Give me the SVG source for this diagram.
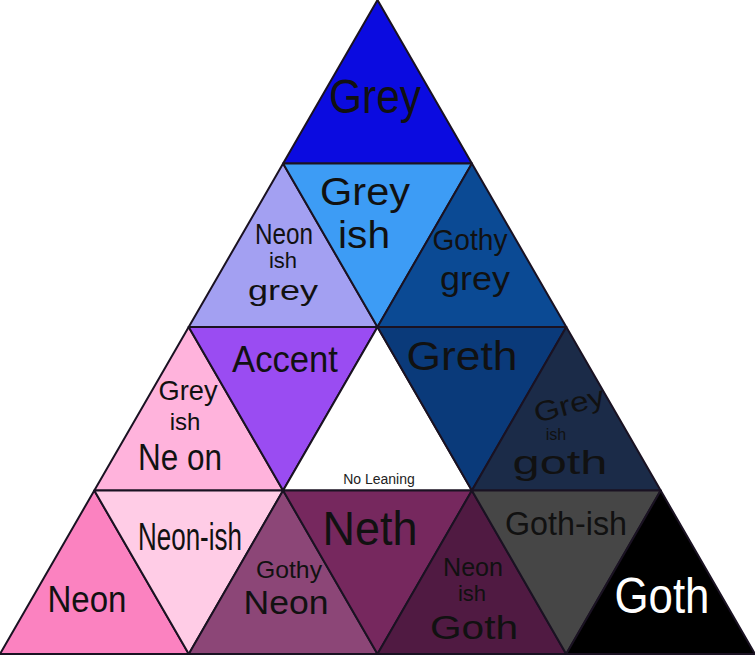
<svg xmlns="http://www.w3.org/2000/svg" width="755" height="655" viewBox="0 0 755 655">
<style>
.t{stroke:#1a1222;stroke-width:2;stroke-linejoin:round}
.h{font-family:"Liberation Sans","DejaVu Sans",sans-serif;fill:#111;text-anchor:middle}
.w{fill:#fff}
.nl{font-family:"Liberation Sans",Arial,sans-serif;font-size:14px;fill:#222;text-anchor:middle}
</style>
<rect width="755" height="655" fill="#fff"/>
<g id="grey"><polygon class="t" fill="#0b0be0" points="377.5,0 283.1,163.5 471.9,163.5"/><text class="h" x="375" y="113" font-size="48" textLength="92" lengthAdjust="spacingAndGlyphs">Grey</text></g>
<g id="neonish-grey"><polygon class="t" fill="#a3a0f2" points="283.1,163.5 188.7,327 377.5,327"/><text class="h" x="284" y="244" font-size="30" textLength="58" lengthAdjust="spacingAndGlyphs">Neon</text><text class="h" x="283" y="268" font-size="22">ish</text><text class="h" x="283" y="300" font-size="28" textLength="70" lengthAdjust="spacingAndGlyphs">grey</text></g>
<g id="greyish"><polygon class="t" fill="#3d9cf5" points="283.1,163.5 471.9,163.5 377.5,327"/><text class="h" x="365" y="205" font-size="38" textLength="90" lengthAdjust="spacingAndGlyphs">Grey</text><text class="h" x="364" y="248" font-size="38" textLength="52" lengthAdjust="spacingAndGlyphs">ish</text></g>
<g id="gothy-grey"><polygon class="t" fill="#0b4a94" points="471.9,163.5 377.5,327 566.3,327"/><text class="h" x="470" y="250" font-size="30" textLength="75" lengthAdjust="spacingAndGlyphs">Gothy</text><text class="h" x="475" y="290" font-size="34" textLength="70" lengthAdjust="spacingAndGlyphs">grey</text></g>
<g id="greyish-neon"><polygon class="t" fill="#ffb3dc" points="188.7,327 94.3,490.5 283.1,490.5"/><text class="h" x="188" y="400" font-size="28" textLength="59" lengthAdjust="spacingAndGlyphs">Grey</text><text class="h" x="185" y="430" font-size="24">ish</text><text class="h" x="180" y="470" font-size="36" textLength="84" lengthAdjust="spacingAndGlyphs">Ne on</text></g>
<g id="accent"><polygon class="t" fill="#9a4cf2" points="188.7,327 377.5,327 283.1,490.5"/><text class="h" x="285" y="372" font-size="36" textLength="106" lengthAdjust="spacingAndGlyphs">Accent</text></g>
<g id="no-leaning"><polygon class="t" fill="#ffffff" points="377.5,327 283.1,490.5 471.9,490.5"/><text class="nl" x="379" y="484">No Leaning</text></g>
<g id="greth"><polygon class="t" fill="#0a3a7a" points="377.5,327 566.3,327 471.9,490.5"/><text class="h" x="462" y="370" font-size="40" textLength="111" lengthAdjust="spacingAndGlyphs">Greth</text></g>
<g id="greyish-goth"><polygon class="t" fill="#1b2b48" points="566.3,327 471.9,490.5 660.7,490.5"/><text class="h" x="570" y="414" font-size="28" textLength="72" lengthAdjust="spacingAndGlyphs" transform="rotate(-15 570 408)">Grey</text><text class="h" x="556" y="440" font-size="16">ish</text><text class="h" x="560" y="474" font-size="34" textLength="95" lengthAdjust="spacingAndGlyphs">goth</text></g>
<g id="neon"><polygon class="t" fill="#fb82c0" points="94.3,490.5 0,654 188.8,654"/><text class="h" x="87" y="612" font-size="36" textLength="79" lengthAdjust="spacingAndGlyphs">Neon</text></g>
<g id="neon-ish"><polygon class="t" fill="#ffcce6" points="94.3,490.5 283.1,490.5 188.8,654"/><text class="h" x="190" y="550" font-size="38" textLength="104" lengthAdjust="spacingAndGlyphs">Neon-ish</text></g>
<g id="gothy-neon"><polygon class="t" fill="#8c4677" points="283.1,490.5 188.8,654 377.5,654"/><text class="h" x="289" y="578" font-size="24" textLength="66" lengthAdjust="spacingAndGlyphs">Gothy</text><text class="h" x="286" y="614" font-size="34" textLength="85" lengthAdjust="spacingAndGlyphs">Neon</text></g>
<g id="neth"><polygon class="t" fill="#76285e" points="283.1,490.5 471.9,490.5 377.5,654"/><text class="h" x="370" y="545" font-size="48" textLength="95" lengthAdjust="spacingAndGlyphs">Neth</text></g>
<g id="neonish-goth"><polygon class="t" fill="#501a42" points="471.9,490.5 377.5,654 566.2,654"/><text class="h" x="473" y="576" font-size="26" textLength="60" lengthAdjust="spacingAndGlyphs">Neon</text><text class="h" x="472" y="601" font-size="22">ish</text><text class="h" x="474" y="639" font-size="34" textLength="88" lengthAdjust="spacingAndGlyphs">Goth</text></g>
<g id="goth-ish"><polygon class="t" fill="#464646" points="471.9,490.5 660.7,490.5 566.2,654"/><text class="h" x="566" y="535" font-size="34" textLength="122" lengthAdjust="spacingAndGlyphs">Goth-ish</text></g>
<g id="goth"><polygon class="t" fill="#000000" points="660.7,490.5 566.2,654 755,654"/><text class="h w" x="662" y="613" font-size="50" textLength="95" lengthAdjust="spacingAndGlyphs">Goth</text></g>
</svg>
